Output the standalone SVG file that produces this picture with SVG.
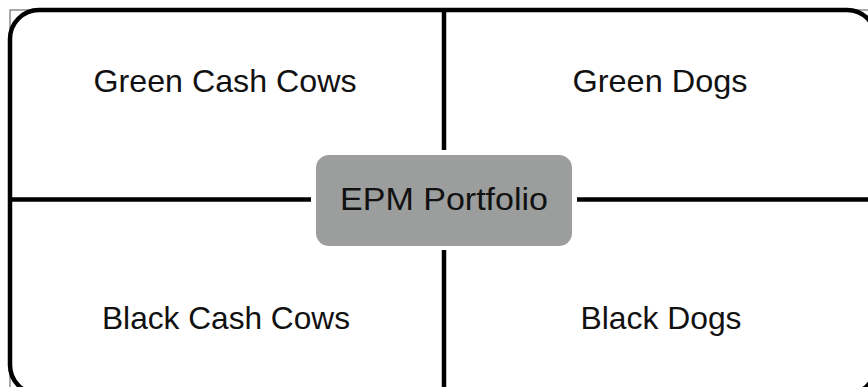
<svg xmlns="http://www.w3.org/2000/svg" width="868" height="387" viewBox="0 0 868 387">
<style>
.lbl{font-family:"Liberation Sans",Arial,sans-serif;font-size:32px;fill:#111;text-anchor:middle}
.ln{stroke:#000;stroke-width:4.5;fill:none}
</style>
<rect x="0" y="0" width="868" height="387" fill="#fff"/>
<g id="frame">
<rect x="10" y="10" width="870" height="390" fill="none" stroke="#555" stroke-width="1"/>
<rect x="10" y="10" width="866" height="384" rx="29" ry="29" fill="#fff" stroke="#000" stroke-width="4.5"/>
</g>
<g id="connectors">
<line class="ln" x1="444" y1="10" x2="444" y2="150"/>
<line class="ln" x1="444" y1="250" x2="444" y2="394"/>
<line class="ln" x1="10" y1="199.5" x2="311" y2="199.5"/>
<line class="ln" x1="577" y1="199.5" x2="876" y2="199.5"/>
</g>
<g id="green-cash-cows"><text class="lbl" x="225" y="92" textLength="263" lengthAdjust="spacingAndGlyphs">Green Cash Cows</text></g>
<g id="green-dogs"><text class="lbl" x="660" y="92" textLength="175" lengthAdjust="spacingAndGlyphs">Green Dogs</text></g>
<g id="black-cash-cows"><text class="lbl" x="226" y="329" textLength="248" lengthAdjust="spacingAndGlyphs">Black Cash Cows</text></g>
<g id="black-dogs"><text class="lbl" x="661" y="329" textLength="161" lengthAdjust="spacingAndGlyphs">Black Dogs</text></g>
<g id="epm-portfolio">
<rect x="316" y="155" width="256" height="91" rx="13" ry="13" fill="#9c9e9e"/>
<text class="lbl" x="444" y="210" textLength="208" lengthAdjust="spacingAndGlyphs">EPM Portfolio</text>
</g>
</svg>
